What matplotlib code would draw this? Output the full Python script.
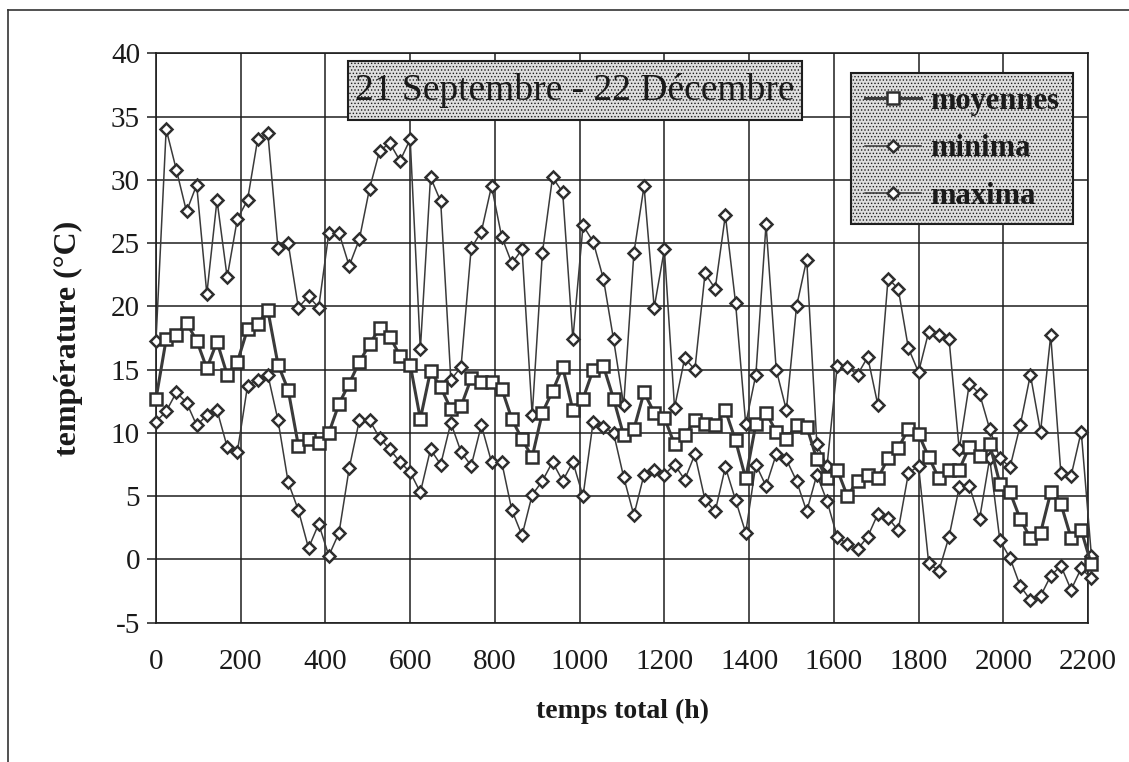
import numpy as np
import matplotlib
matplotlib.use("Agg")
import matplotlib.pyplot as plt
from matplotlib.patches import Rectangle
from matplotlib.lines import Line2D

# ---------------- data ----------------
step_h = 24
n_points = 93
temps = np.arange(n_points) * step_h  # one reading per day (hours)

moyennes = [12.7, 17.4, 17.7, 18.7, 17.3, 15.1, 17.2, 14.6, 15.6, 18.2,
            18.6, 19.7, 15.4, 13.4, 9.0, 9.5, 9.2, 10.0, 12.3, 13.9,
            15.6, 17.0, 18.3, 17.6, 16.1, 15.4, 11.1, 14.9, 13.6, 11.9,
            12.1, 14.3, 14.0, 14.0, 13.5, 11.1, 9.5, 8.1, 11.6, 13.3,
            15.2, 11.8, 12.7, 15.0, 15.3, 12.7, 9.8, 10.3, 13.2, 11.6,
            11.2, 9.1, 9.8, 11.0, 10.7, 10.6, 11.8, 9.4, 6.4, 10.7,
            11.6, 10.1, 9.5, 10.6, 10.5, 7.9, 6.4, 7.1, 5.0, 6.2,
            6.7, 6.4, 8.0, 8.8, 10.3, 9.9, 8.1, 6.4, 7.1, 7.1,
            8.9, 8.2, 9.1, 6.0, 5.3, 3.2, 1.7, 2.1, 5.3, 4.4,
            1.7, 2.3, -0.4]

minima = [10.9, 11.7, 13.2, 12.4, 10.6, 11.4, 11.8, 8.9, 8.5, 13.7,
          14.2, 14.6, 11.0, 6.1, 3.9, 0.9, 2.8, 0.3, 2.1, 7.2,
          11.0, 11.0, 9.6, 8.7, 7.7, 6.9, 5.3, 8.7, 7.5, 10.8,
          8.5, 7.4, 10.6, 7.7, 7.7, 3.9, 1.9, 5.1, 6.2, 7.7,
          6.2, 7.7, 5.0, 10.9, 10.5, 10.0, 6.5, 3.5, 6.7, 7.1,
          6.7, 7.5, 6.3, 8.3, 4.7, 3.8, 7.3, 4.7, 2.1, 7.5,
          5.8, 8.3, 7.9, 6.2, 3.8, 6.7, 4.6, 1.8, 1.2, 0.8,
          1.8, 3.6, 3.3, 2.3, 6.8, 7.4, -0.3, -0.9, 1.8, 5.7,
          5.8, 3.2, 8.0, 1.5, 0.1, -2.1, -3.2, -2.9, -1.3, -0.5,
          -2.4, -0.7, -1.5]

maxima = [17.3, 34.0, 30.8, 27.5, 29.6, 21.0, 28.4, 22.3, 26.9, 28.4,
          33.2, 33.7, 24.6, 25.0, 19.9, 20.8, 19.9, 25.8, 25.8, 23.2,
          25.3, 29.3, 32.3, 32.9, 31.5, 33.2, 16.6, 30.2, 28.3, 14.2,
          15.2, 24.6, 25.9, 29.5, 25.5, 23.4, 24.5, 11.4, 24.2, 30.2,
          29.0, 17.4, 26.4, 25.1, 22.2, 17.4, 12.2, 24.2, 29.5, 19.9,
          24.5, 12.0, 15.9, 15.0, 22.6, 21.4, 27.2, 20.3, 10.7, 14.6,
          26.5, 15.0, 11.8, 20.0, 23.7, 9.1, 7.4, 15.3, 15.2, 14.6,
          16.0, 12.2, 22.2, 21.4, 16.7, 14.8, 18.0, 17.7, 17.4, 8.7,
          13.9, 13.1, 10.3, 8.0, 7.3, 10.6, 14.6, 10.1, 17.7, 6.8,
          6.6, 10.1, 0.3]

x_ticks = list(range(0, 2201, 200))
y_ticks = list(range(-5, 41, 5))
title_text = "21 Septembre - 22 Décembre"
labels = ["moyennes", "minima", "maxima"]

# ---------------- style ----------------
SERIF = ["Liberation Serif", "DejaVu Serif"]
plt.rcParams["font.family"] = SERIF
plt.rcParams["axes.unicode_minus"] = False
plt.rcParams["hatch.color"] = "#9a9a9a"
plt.rcParams["hatch.linewidth"] = 0.6

LINE_C = "#3a3a3a"
EDGE_C = "#2e2e2e"
BOX_FACE = "#dedede"

fig = plt.figure(figsize=(11.29, 7.62), dpi=100)
ax = fig.add_axes([156 / 1129, 1 - 622.7 / 762, (1088 - 156) / 1129, (622.7 - 53.3) / 762])

ax.plot(temps, moyennes, color=LINE_C, lw=2.2, marker="s", ms=8.5,
        mfc="white", mec=EDGE_C, mew=1.8, clip_on=False, zorder=4, label=labels[0])
ax.plot(temps, minima, color=LINE_C, lw=1.1, marker="D", ms=6,
        mfc="white", mec=EDGE_C, mew=1.8, clip_on=False, zorder=3, label=labels[1])
ax.plot(temps, maxima, color=LINE_C, lw=1.1, marker="D", ms=6,
        mfc="white", mec=EDGE_C, mew=1.8, clip_on=False, zorder=3, label=labels[2])

ax.set_xlim(0, 2200)
ax.set_ylim(-5, 40)
ax.set_xticks(x_ticks)
ax.set_yticks(y_ticks)
ax.grid(True, color="#1e1e1e", lw=1.1)
ax.set_axisbelow(True)
for s in ax.spines.values():
    s.set_color("#1e1e1e")
    s.set_linewidth(1.2)

ax.tick_params(axis="y", direction="out", length=6.5, width=1.1, color="#1e1e1e",
               pad=5, labelsize=21, labelcolor="#1a1a1a")
ax.tick_params(axis="x", length=0, pad=19, labelsize=21, labelcolor="#1a1a1a")

ax.set_xlabel("temps total (h)", fontsize=20, fontweight="bold", color="#1a1a1a", labelpad=17)
ax.set_ylabel("température (°C)", fontsize=23, fontweight="bold", color="#1a1a1a", labelpad=20)

# title box
rx0, rx1 = (348 - 156) / 932, (802 - 156) / 932
ry0, ry1 = (622.7 - 120) / 569.4, (622.7 - 60.7) / 569.4
box = Rectangle((rx0, ry0), rx1 - rx0, ry1 - ry0, transform=ax.transAxes,
                facecolor=BOX_FACE, edgecolor="#1e1e1e", lw=1.5, hatch=".....", zorder=6)
ax.add_patch(box)
ax.text((rx0 + rx1) / 2, (ry0 + ry1) / 2, title_text, transform=ax.transAxes,
        ha="center", va="center", fontsize=27, color="#1a1a1a", zorder=7)

# legend
leg = ax.legend(loc="upper left", bbox_to_anchor=((851 - 156) / 932, (622.7 - 73.3) / 569.4),
                prop={"family": SERIF, "weight": "bold", "size": 22},
                frameon=True, fancybox=False, borderpad=0.45, labelspacing=0.6,
                handlelength=1.85, handletextpad=0.3, borderaxespad=0.0)
fr = leg.get_frame()
fr.set_facecolor(BOX_FACE)
fr.set_edgecolor("#1e1e1e")
fr.set_linewidth(1.5)
fr.set_hatch(".....")
fr.set_alpha(1)
leg.set_zorder(8)
for t in leg.get_texts():
    t.set_color("#1a1a1a")

# outer frame (top and left border of the scanned page)
fig.add_artist(Line2D([8 / 1129, 1], [1 - 10 / 762, 1 - 10 / 762], transform=fig.transFigure,
                      color="#333333", lw=1.2))
fig.add_artist(Line2D([8 / 1129, 8 / 1129], [0, 1 - 10 / 762], transform=fig.transFigure,
                      color="#333333", lw=1.2))

fig.savefig("out.png", dpi=100, facecolor="white")
